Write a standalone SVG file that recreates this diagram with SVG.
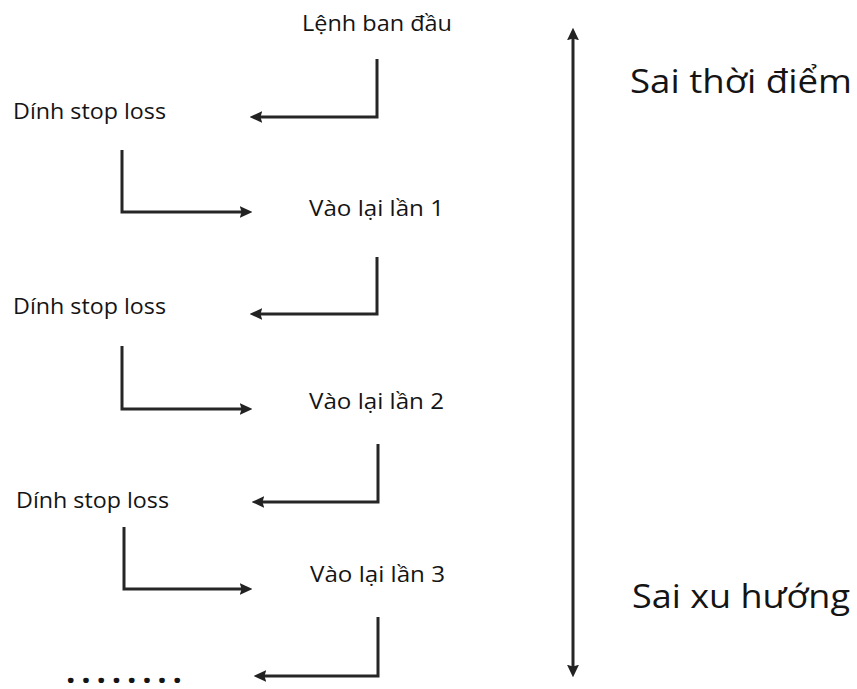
<svg xmlns="http://www.w3.org/2000/svg" width="857" height="689" viewBox="0 0 857 689">
<defs>
<marker id="ah" viewBox="0 0 10 10" refX="5" refY="5" markerWidth="4.2" markerHeight="4" orient="auto-start-reverse" markerUnits="strokeWidth" preserveAspectRatio="none">
<path d="M0,0 L10,5 L0,10 L1.5,5 z" fill="#222"/>
</marker>
<style>
.lbl{font-family:"Open Sans","Noto Sans","Liberation Sans",sans-serif;font-size:21px;fill:#141414}
.big{font-family:"Open Sans","Noto Sans","Liberation Sans",sans-serif;font-size:33px;fill:#141414}
.c{fill:none;stroke:#262626;stroke-width:3;marker-end:url(#ah)}
</style>
</defs>
<rect width="857" height="689" fill="#fff"/>
<g id="n0"><text class="lbl" x="302" y="31" textLength="150" lengthAdjust="spacingAndGlyphs">Lệnh ban đầu</text></g>
<g id="n1"><text class="lbl" x="13" y="119" textLength="153" lengthAdjust="spacingAndGlyphs">Dính stop loss</text></g>
<g id="n2"><text class="lbl" x="309" y="216" textLength="135" lengthAdjust="spacingAndGlyphs">Vào lại lần 1</text></g>
<g id="n3"><text class="lbl" x="13" y="314" textLength="153" lengthAdjust="spacingAndGlyphs">Dính stop loss</text></g>
<g id="n4"><text class="lbl" x="309" y="409" textLength="135" lengthAdjust="spacingAndGlyphs">Vào lại lần 2</text></g>
<g id="n5"><text class="lbl" x="16" y="508" textLength="153" lengthAdjust="spacingAndGlyphs">Dính stop loss</text></g>
<g id="n6"><text class="lbl" x="310" y="582" textLength="135" lengthAdjust="spacingAndGlyphs">Vào lại lần 3</text></g>
<g id="n7"><text class="big" x="66" y="683" font-size="22" font-weight="bold" textLength="116" lengthAdjust="spacing">........</text></g>
<g id="n8"><text class="big" x="630" y="93" textLength="222" lengthAdjust="spacingAndGlyphs">Sai thời điểm</text></g>
<g id="n9"><text class="big" x="632" y="608" textLength="218" lengthAdjust="spacingAndGlyphs">Sai xu hướng</text></g>
<g id="connectors">
<path class="c" d="M377,59 V117 H256"/>
<path class="c" d="M122,150 V212 H246"/>
<path class="c" d="M377,257 V314 H256"/>
<path class="c" d="M122,346 V409 H246"/>
<path class="c" d="M378,444 V502 H258"/>
<path class="c" d="M124,527 V589 H246"/>
<path class="c" d="M378,617 V676 H260"/>
<path class="c" d="M573,34 V671" style="marker-start:url(#ah)"/>
</g>
</svg>
